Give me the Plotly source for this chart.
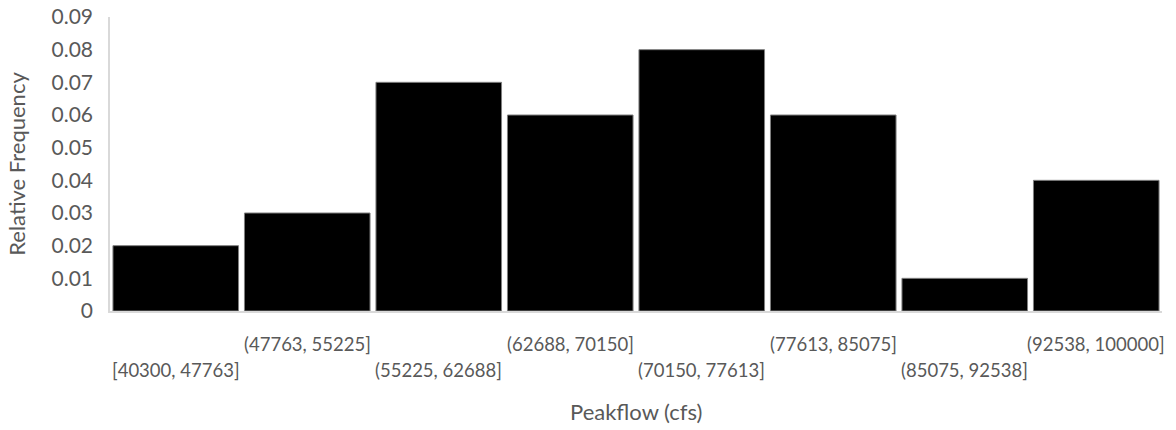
import plotly.graph_objects as go

# Peak-flow histogram: bin labels and relative frequencies
bins = [
    "[40300, 47763]",
    "(47763, 55225]",
    "(55225, 62688]",
    "(62688, 70150]",
    "(70150, 77613]",
    "(77613, 85075]",
    "(85075, 92538]",
    "(92538, 100000]",
]
rel_freq = [0.02, 0.03, 0.07, 0.06, 0.08, 0.06, 0.01, 0.04]
y_ticks = [0, 0.01, 0.02, 0.03, 0.04, 0.05, 0.06, 0.07, 0.08, 0.09]
y_tick_text = ["0", "0.01", "0.02", "0.03", "0.04", "0.05", "0.06", "0.07", "0.08", "0.09"]

FONT = "Lato"
GREY_TEXT = "#595959"
AXIS_LINE = "#d9d9d9"

fig = go.Figure(
    go.Bar(
        x=list(range(len(bins))),
        y=rel_freq,
        marker=dict(color="black", line=dict(width=1, color="#7f7f7f")),
        hovertext=bins,
    )
)

# Bin labels alternate between two rows below the axis
for i, label in enumerate(bins):
    fig.add_annotation(
        x=i, xref="x", y=0, yref="paper",
        text=label, showarrow=False,
        xanchor="center", yanchor="middle",
        yshift=-59 if i % 2 == 0 else -33,
        font=dict(family=FONT, size=18.5, color=GREY_TEXT),
    )

fig.update_layout(
    width=1176, height=430,
    margin=dict(l=110, r=14, t=17, b=119),
    paper_bgcolor="white", plot_bgcolor="white",
    bargap=0.045,
    showlegend=False,
    font=dict(family=FONT, size=18, color=GREY_TEXT),
    xaxis=dict(
        range=[-0.5, len(bins) - 0.5],
        showticklabels=False, ticks="",
        showgrid=False, zeroline=False, automargin=False,
        showline=True, linecolor=AXIS_LINE, linewidth=1.5,
    ),
    yaxis=dict(
        range=[0, 0.09],
        tickvals=y_ticks, ticktext=y_tick_text,
        showgrid=False, zeroline=False, automargin=False,
        showline=True, linecolor=AXIS_LINE, linewidth=1.5,
        ticks="", ticklabelstandoff=11,
        tickfont=dict(family=FONT, size=21, color=GREY_TEXT),
        title=dict(text="Relative Frequency", standoff=20,
                   font=dict(family=FONT, size=22, color=GREY_TEXT)),
    ),
)

# X-axis title sits below the two rows of bin labels
fig.add_annotation(
    x=0.5, xref="paper", y=0, yref="paper",
    text="Peakflow (cfs)", showarrow=False,
    xanchor="center", yanchor="middle", yshift=-100,
    font=dict(family=FONT, size=22, color=GREY_TEXT),
)

fig.write_html("out.html")
